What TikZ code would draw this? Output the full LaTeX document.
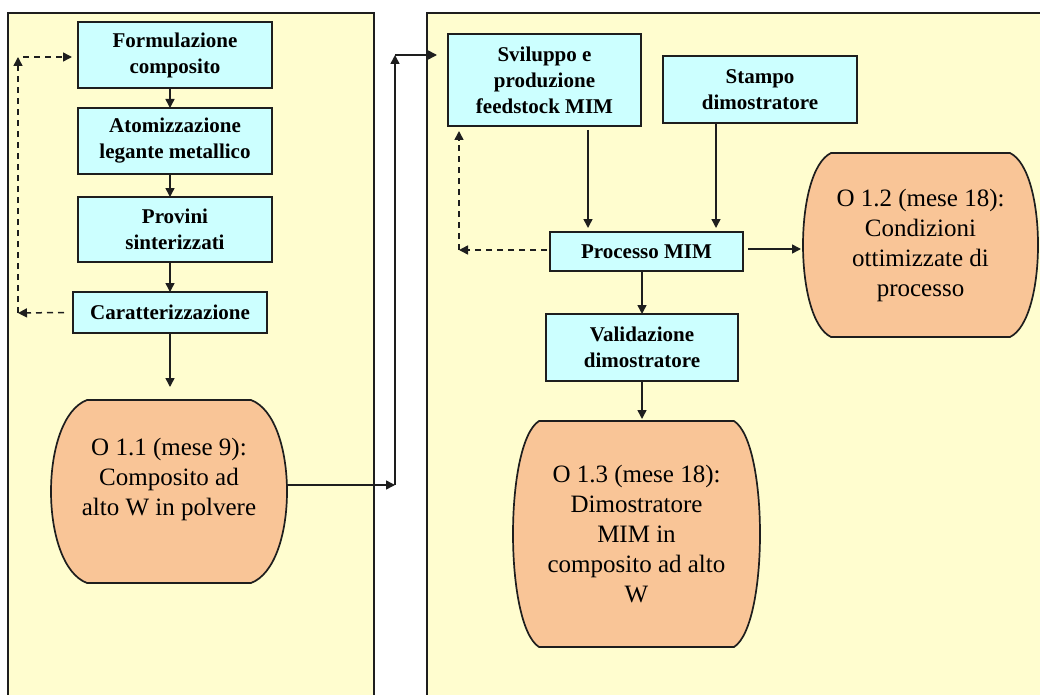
\documentclass[tikz,border=0pt]{standalone}
\usepackage{fontspec}
\setmainfont{Liberation Serif}
\usetikzlibrary{arrows.meta,calc,backgrounds}
\definecolor{panelbg}{HTML}{FFFDCF}
\definecolor{boxbg}{HTML}{CCFFFF}
\definecolor{goalbg}{HTML}{F9C597}
\definecolor{linec}{HTML}{1E1E1E}
\tikzset{
 stepbox/.style={draw=linec, line width=1.8pt, fill=boxbg, align=center, inner sep=2pt, outer sep=0pt, font=\fontsize{21}{26}\selectfont\bfseries, text=black},
 goal/.style={draw=none, align=center, inner sep=0pt, outer sep=0pt, font=\fontsize{25}{30}\selectfont, text=black},
 goalshape/.style={fill=goalbg, draw=linec, line width=1.7pt},
 arr/.style={draw=linec, line width=1.5pt, -{Triangle[length=9pt,width=9pt]}},
 fb/.style={arr, dash pattern=on 6pt off 5pt},
 panelline/.style={draw=linec, line width=1.7pt},
}
\newcommand\drawbarrel[3]{%
 \path[goalshape] ($(#1.north west)+(#2,0)$) -- ($(#1.north east)+(-#2,0)$)
   .. controls ($(#1.north east)+(#2/3,#3)$) and ($(#1.south east)+(#2/3,-#3)$) .. ($(#1.south east)+(-#2,0)$)
   -- ($(#1.south west)+(#2,0)$)
   .. controls ($(#1.south west)+(-#2/3,-#3)$) and ($(#1.north west)+(-#2/3,#3)$) .. cycle;}
\begin{document}
\begin{tikzpicture}[x=1pt,y=-1pt]
\useasboundingbox (0,0) rectangle (1040,695);

% left column
\node[stepbox, minimum width=194pt, minimum height=66pt] (form) at (175,55) {Formulazione\\composito};
\node[stepbox, minimum width=194pt, minimum height=66pt] (atom) at (175,141) {Atomizzazione\\legante metallico};
\node[stepbox, minimum width=194pt, minimum height=65pt] (prov) at (175,229.5) {Provini\\sinterizzati};
\node[stepbox, minimum width=194pt, minimum height=41pt] (car) at (170,312.5) {Caratterizzazione};
\node[goal, minimum width=236pt, minimum height=183pt] (o11) at (169,491.5) {O 1.1 (mese 9):\\Composito ad\\alto W in polvere\\\mbox{}};

% right column
\node[stepbox, minimum width=193pt, minimum height=92pt] (svil) at (544.5,80) {Sviluppo e\\produzione\\feedstock MIM};
\node[stepbox, minimum width=194pt, minimum height=67pt] (stam) at (760,89.5) {Stampo\\dimostratore};
\node[stepbox, minimum width=193pt, minimum height=39pt] (proc) at (646.5,251.5) {Processo MIM};
\node[stepbox, minimum width=192pt, minimum height=67pt] (vali) at (642,347.5) {Validazione\\dimostratore};
\node[goal, minimum width=235pt, minimum height=184pt] (o12) at (920.5,245) {O 1.2 (mese 18):\\Condizioni\\ottimizzate di\\processo};
\node[goal, minimum width=247pt, minimum height=226pt] (o13) at (636.5,534) {O 1.3 (mese 18):\\Dimostratore\\MIM in\\composito ad alto\\W};

\begin{pgfonlayer}{background}
\fill[panelbg] (8,13) rectangle (374,695);
\draw[panelline] (8,695) -- (8,13) -- (374,13) -- (374,695);
\fill[panelbg] (427,13) rectangle (1040,695);
\draw[panelline] (427,695) -- (427,13) -- (1040,13);
\drawbarrel{o11}{36}{18}
\drawbarrel{o12}{28}{18}
\drawbarrel{o13}{26}{22}
\end{pgfonlayer}

% helper coordinates
\coordinate (colx) at (170,0);
\coordinate (fl1) at (18,313);
\coordinate (fl2) at (18,57);
\coordinate (jn) at (395,485);
\coordinate (jt) at (395,55);
\coordinate (xs) at (588,0);
\coordinate (xt) at (716,0);
\coordinate (xv) at (642,0);
\coordinate (yo) at (0,249);
\coordinate (fr1) at (459,250);
\coordinate (fr2) at (459,131);

% left flow
\draw[arr] (form.south -| colx) -- (atom.north -| colx);
\draw[arr] (atom.south -| colx) -- (prov.north -| colx);
\draw[arr] (prov.south -| colx) -- (car.north -| colx);
\draw[arr, shorten >=13pt] (car.south -| colx) -- (o11.north -| colx);

% left feedback
\draw[fb] ([xshift=-9pt]car.west) -- (fl1);
\draw[fb] (fl1) -- (fl2);
\draw[fb] ([xshift=5pt]fl2) -- ([xshift=-6pt]form.west |- fl2);

% link between panels
\draw[arr] (o11.east |- jn) -- (jn);
\draw[arr] (jn) -- (jt);
\draw[arr] (jt) -- ([xshift=-11pt]svil.west |- jt);

% right flow
\draw[arr, shorten <=4pt, shorten >=4pt] (svil.south -| xs) -- (proc.north -| xs);
\draw[arr, shorten >=4pt] (stam.south -| xt) -- (proc.north -| xt);
\draw[arr] (proc.south -| xv) -- (vali.north -| xv);
\draw[arr, shorten >=2pt] (vali.south -| xv) -- (o13.north -| xv);
\draw[arr, shorten <=5pt, shorten >=2pt] (proc.east |- yo) -- (o12.west |- yo);

% right feedback
\draw[fb] ([xshift=-3pt]proc.west |- fr1) -- (fr1);
\draw[fb] (fr1) -- (fr2);
\end{tikzpicture}
\end{document}
